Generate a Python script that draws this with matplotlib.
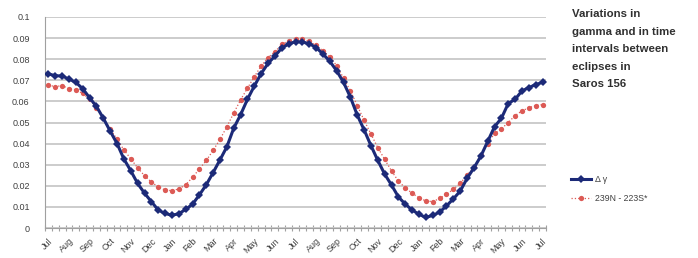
import matplotlib
matplotlib.use("Agg")
import matplotlib.pyplot as plt
from matplotlib.ticker import FixedLocator

months = ["Jul", "Aug", "Sep", "Oct", "Nov", "Dec", "Jan", "Feb", "Mar", "Apr", "May", "Jun",
          "Jul", "Aug", "Sep", "Oct", "Nov", "Dec", "Jan", "Feb", "Mar", "Apr", "May", "Jun", "Jul"]

delta_gamma = [0.073, 0.0722, 0.072, 0.0706, 0.069, 0.066, 0.0617, 0.0576, 0.052, 0.0459,
               0.040, 0.0327, 0.0271, 0.0211, 0.0165, 0.0125, 0.0085, 0.0069, 0.006, 0.0068,
               0.0088, 0.0113, 0.0157, 0.0205, 0.0263, 0.0323, 0.0385, 0.0473, 0.0537, 0.061,
               0.0673, 0.0732, 0.078, 0.0815, 0.0853, 0.0872, 0.0883, 0.0881, 0.0874, 0.0855,
               0.0825, 0.079, 0.0745, 0.069, 0.062, 0.0535, 0.0465, 0.039, 0.032, 0.0255,
               0.0203, 0.0147, 0.0113, 0.0085, 0.0065, 0.005, 0.006, 0.0075, 0.0105, 0.0138,
               0.0175, 0.0235, 0.0285, 0.034, 0.041, 0.048, 0.052, 0.059, 0.061, 0.065,
               0.0665, 0.068, 0.069]

interval_diff = [0.0677, 0.067, 0.0675, 0.066, 0.0655, 0.0638, 0.061, 0.057, 0.052, 0.047,
                 0.042, 0.037, 0.0328, 0.0285, 0.0248, 0.0218, 0.0195, 0.018, 0.0177, 0.0185,
                 0.0205, 0.024, 0.028, 0.032, 0.0368, 0.042, 0.048, 0.0545, 0.0607, 0.0663,
                 0.0717, 0.0768, 0.0808, 0.0835, 0.087, 0.0887, 0.0898, 0.0895, 0.0885, 0.0865,
                 0.084, 0.081, 0.077, 0.071, 0.065, 0.058, 0.051, 0.0445, 0.038, 0.0325,
                 0.027, 0.0222, 0.019, 0.0165, 0.0143, 0.0128, 0.0125, 0.014, 0.016, 0.0183,
                 0.0212, 0.025, 0.029, 0.0345, 0.040, 0.0448, 0.047, 0.050, 0.0533, 0.0555,
                 0.057, 0.058, 0.0585]

series_labels = ["Δ γ", "239N - 223S*"]
title_text = "Variations in\ngamma and in time\nintervals between\neclipses in\nSaros 156"
yticks = [0, 0.01, 0.02, 0.03, 0.04, 0.05, 0.06, 0.07, 0.08, 0.09, 0.1]
ytick_labels = ["0", "0.01", "0.02", "0.03", "0.04", "0.05", "0.06", "0.07", "0.08", "0.09", "0.1"]

plt.rcParams['font.family'] = ['Liberation Sans', 'DejaVu Sans']

fig = plt.figure(figsize=(6.98, 2.58), dpi=100)
ax = fig.add_axes([45 / 698, 1 - 228 / 258, (546 - 45) / 698, (228 - 17) / 258])

n = len(delta_gamma)
x = list(range(n))

ax.plot(x, interval_diff, linestyle=':', linewidth=0.9, color='#dc5a55',
        marker='o', markersize=3.8, markeredgewidth=0, markerfacecolor='#dc5a55',
        label=series_labels[1], zorder=3)
ax.plot(x, delta_gamma, linestyle='-', linewidth=2.2, color='#1c2a78',
        marker='D', markersize=4.3, markeredgewidth=0, markerfacecolor='#1c2a78',
        label=series_labels[0], zorder=4)

ax.set_xlim(-0.5, n - 0.5)
ax.set_ylim(0, 0.1)
ax.set_yticks(yticks)
ax.set_yticklabels(ytick_labels)
ax.yaxis.grid(True, color='#c8c8c8', linewidth=1.3)
ax.set_axisbelow(True)

label_pos = list(range(0, n, 3))
ax.xaxis.set_major_locator(FixedLocator(label_pos))
ax.set_xticklabels(months, rotation=45, ha='right', rotation_mode='anchor')
ax.xaxis.set_minor_locator(FixedLocator([k - 0.5 for k in range(n + 1)]))
ax.tick_params(axis='x', which='major', length=0, pad=6, labelsize=6.5, labelcolor='#404040')
ax.tick_params(axis='x', which='minor', length=4, direction='inout', color='#a0a0a0', width=0.8)
ax.tick_params(axis='y', which='major', length=0, pad=11, labelsize=6.5, labelcolor='#404040')

for s in ['top', 'right']:
    ax.spines[s].set_visible(False)
ax.spines['left'].set_color('#a0a0a0')
ax.spines['bottom'].set_color('#a0a0a0')
ax.spines['left'].set_linewidth(0.8)
ax.spines['bottom'].set_linewidth(0.8)

fig.text(572 / 698, 1 - 9 / 258, title_text, fontsize=8.2, fontweight='bold',
         va='top', ha='left', color='#303030', linespacing=1.95)

handles, labels = ax.get_legend_handles_labels()
fig.legend(handles[::-1], labels[::-1], loc='upper left',
           bbox_to_anchor=(563 / 698, 1 - 167 / 258), frameon=False,
           fontsize=6.3, handlelength=2.3, labelspacing=1.2, handletextpad=0.5,
           labelcolor='#404040')

fig.savefig("out.png", dpi=100)
